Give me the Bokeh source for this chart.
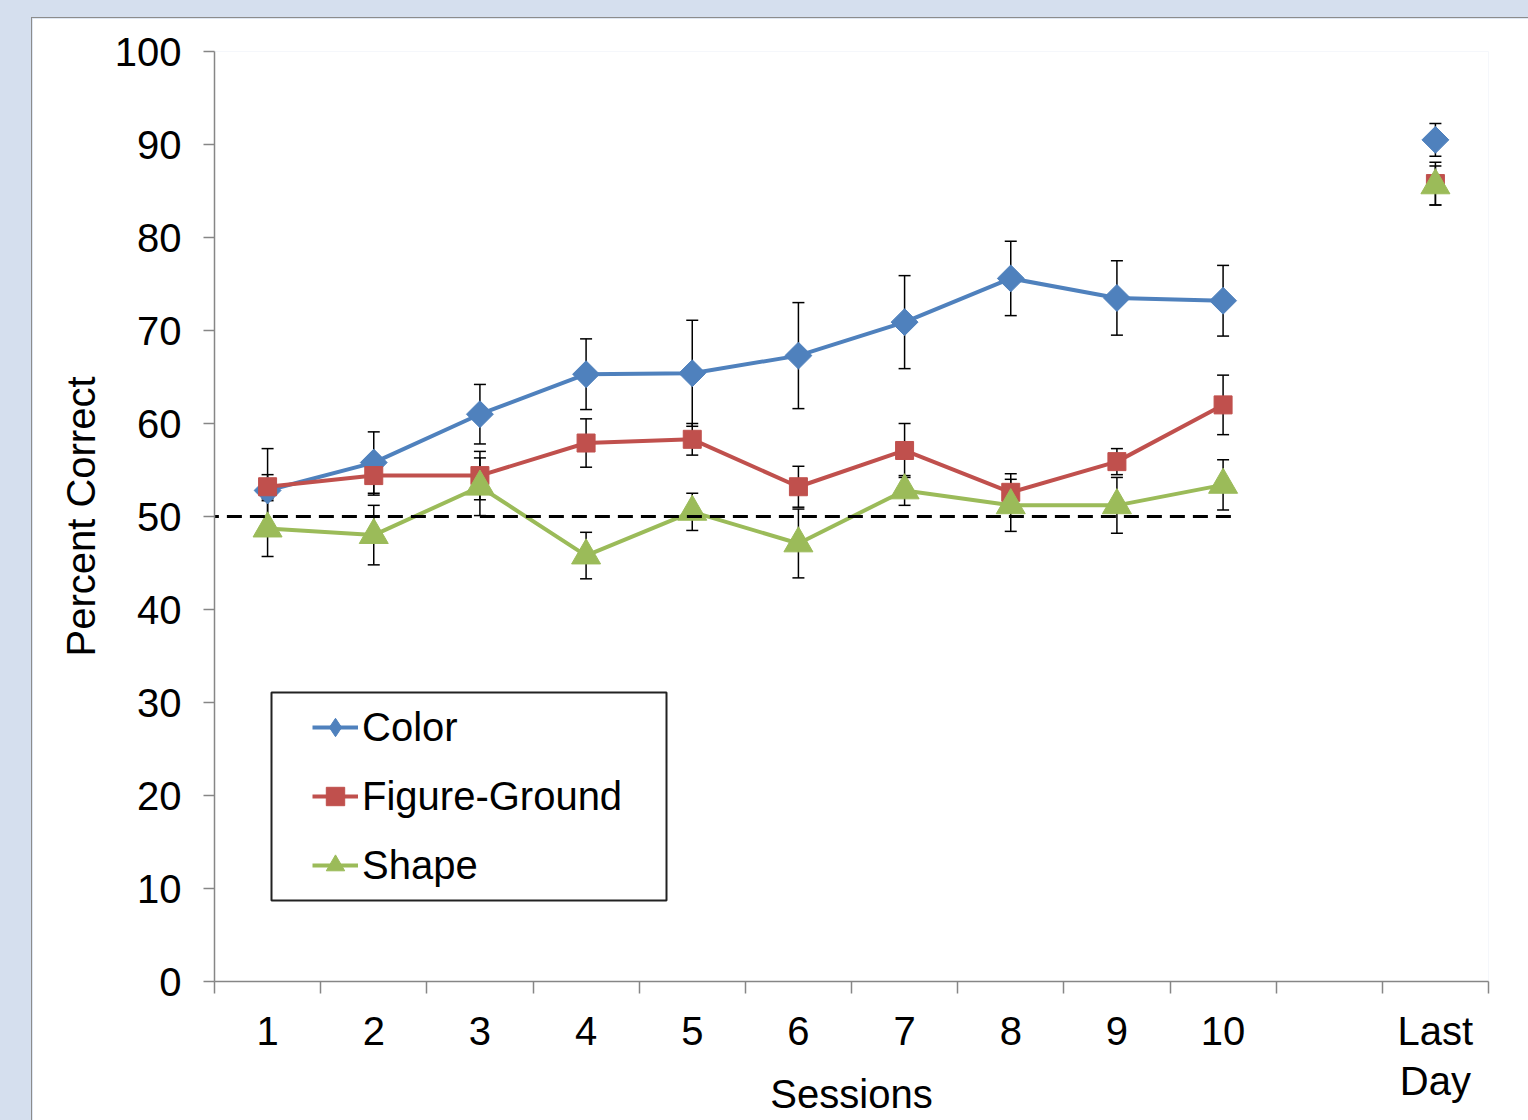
import numpy as np
from bokeh.plotting import figure
from bokeh.layouts import column
from bokeh.models import (ColumnDataSource, Whisker, TeeHead, Range1d, FixedTicker,
                          Legend, LegendItem, BoxAnnotation, CDSView, IndexFilter)
from bokeh.embed import file_html
from bokeh.resources import INLINE

# ---------------- data ----------------
categories = ["1", "2", "3", "4", "5", "6", "7", "8", "9", "10", "", "Last\nDay"]
sessions = categories[:10]
last_day = categories[-1]

color_mean = [52.8, 55.8, 61.0, 65.3, 65.4, 67.3, 70.9, 75.6, 73.5, 73.2]
color_err = [4.5, 3.3, 3.2, 3.8, 5.7, 5.7, 5.0, 4.0, 4.0, 3.8]
fg_mean = [53.2, 54.4, 54.4, 57.9, 58.3, 53.2, 57.1, 52.6, 55.9, 62.0]
fg_err = [1.3, 2.1, 2.6, 2.6, 1.7, 2.2, 2.9, 2.0, 1.4, 3.2]
shape_mean = [48.7, 48.0, 53.2, 45.8, 50.5, 47.1, 52.8, 51.2, 51.2, 53.4]
shape_err = [3.0, 3.2, 3.1, 2.5, 2.0, 3.7, 1.6, 2.8, 3.0, 2.7]

last_color, last_color_err = 90.5, 1.75
last_fg, last_fg_err = 85.8, 2.3
last_shape, last_shape_err = 85.6, 2.1

chance_level = 50
y_ticks = list(range(0, 101, 10))

# ---------------- style ----------------
FONT = "Liberation Sans"
FS = "40px"
BLUE, RED, GREEN = "#4f81bd", "#c0504d", "#9bbb59"
AXIS_GREY = "#868686"

xpos = {c: i + 0.5 for i, c in enumerate(categories)}
sx = [xpos[s] for s in sessions]
lx = xpos[last_day]

p = figure(width=1496, height=1102,
           x_range=Range1d(0, len(categories)), y_range=Range1d(0, 100),
           output_backend="svg", toolbar_location=None,
           min_border_left=182, min_border_right=40, min_border_top=33, min_border_bottom=139,
           margin=(26, 0, 0, 40),
           background_fill_color="white", border_fill_color="white",
           styles={"outline": "1px solid #8c8c8c"})
p.outline_line_color = None
p.xgrid.visible = False
p.ygrid.visible = False

# y axis
p.yaxis.ticker = FixedTicker(ticks=y_ticks, minor_ticks=[])
p.yaxis.major_tick_out = 11
p.yaxis.major_tick_in = 0
p.yaxis.major_label_standoff = 22
p.yaxis.axis_label = "Percent Correct"
p.yaxis.axis_label_standoff = 9

# x axis
p.xaxis.ticker = FixedTicker(ticks=[xpos[c] for c in categories],
                             minor_ticks=list(range(0, len(categories) + 1)))
p.xaxis.major_label_overrides = {xpos[c]: c for c in categories}
p.xaxis.major_tick_out = 0
p.xaxis.major_tick_in = 0
p.xaxis.minor_tick_out = 12
p.xaxis.minor_tick_in = 0
p.xaxis.major_label_standoff = 15
p.xaxis.major_label_text_line_height = 1.15
p.xaxis.axis_label = "Sessions"
p.xaxis.axis_label_standoff = -34

for ax in (p.xaxis, p.yaxis):
    ax.axis_line_color = AXIS_GREY
    ax.axis_line_width = 1.5
    ax.major_tick_line_color = AXIS_GREY
    ax.major_tick_line_width = 1.5
    ax.minor_tick_line_color = AXIS_GREY
    ax.minor_tick_line_width = 1.5
    ax.major_label_text_font = FONT
    ax.major_label_text_font_size = FS
    ax.major_label_text_color = "black"
    ax.axis_label_text_font = FONT
    ax.axis_label_text_font_size = FS
    ax.axis_label_text_font_style = "normal"
    ax.axis_label_text_color = "black"

series = [
    ("Color", color_mean, color_err, last_color, last_color_err, BLUE, "square", np.pi / 4, 19, "diamond", 22),
    ("Figure-Ground", fg_mean, fg_err, last_fg, last_fg_err, RED, "square", 0.0, 18, "square", 15),
    ("Shape", shape_mean, shape_err, last_shape, last_shape_err, GREEN, "triangle", 0.0, 29, "triangle", 19),
]

items = []
for name, mean, err, lmean, lerr, col, marker, ang, size, lmarker, lsize in series:
    xs = sx + [lx]
    ys = list(mean) + [lmean]
    es = list(err) + [lerr]
    src = ColumnDataSource(dict(x=xs, y=ys,
                                upper=[m + e for m, e in zip(ys, es)],
                                lower=[m - e for m, e in zip(ys, es)]))
    w = Whisker(source=src, base="x", upper="upper", lower="lower",
                line_color="black", line_width=1.5, level="underlay",
                upper_head=TeeHead(size=12, line_color="black", line_width=1.5),
                lower_head=TeeHead(size=12, line_color="black", line_width=1.5))
    p.add_layout(w)
    lr = p.line(sx, mean, line_color=col, line_width=4)
    # legend key marker: drawn only on the last point, hidden inside the larger marker
    leg_mark = p.scatter("x", "y", source=src, marker=lmarker, size=lsize,
                         fill_color=col, line_color=col,
                         view=CDSView(filter=IndexFilter(indices=[len(xs) - 1])))
    p.scatter("x", "y", source=src, marker=marker, angle=ang, size=size,
              fill_color=col, line_color=col)
    items.append(LegendItem(label=name, renderers=[lr, leg_mark]))

# chance level dashed line
p.segment(x0=[sx[0] - 0.6], y0=[chance_level], x1=[sx[-1] + 0.1], y1=[chance_level],
          line_color="black", line_width=3, line_dash="15 8")

legend = Legend(items=items, location=(86, 81), padding=12, spacing=23,
                label_height=46, glyph_height=46, glyph_width=46, label_standoff=4,
                label_text_font=FONT, label_text_font_size=FS, label_text_color="black",
                border_line_alpha=0, background_fill_alpha=0)
p.add_layout(legend, "center")

frame_box = BoxAnnotation(left=57, right=452, bottom=81, top=289,
                          left_units="screen", right_units="screen",
                          bottom_units="screen", top_units="screen",
                          fill_alpha=0, line_color="#222222", line_alpha=1, line_width=2)
p.add_layout(frame_box)

root = column(p, margin=(-8, -8, -8, -8), styles={"background-color": "#d5dfee"})

open("out.html", "w").write(file_html(root, INLINE))
